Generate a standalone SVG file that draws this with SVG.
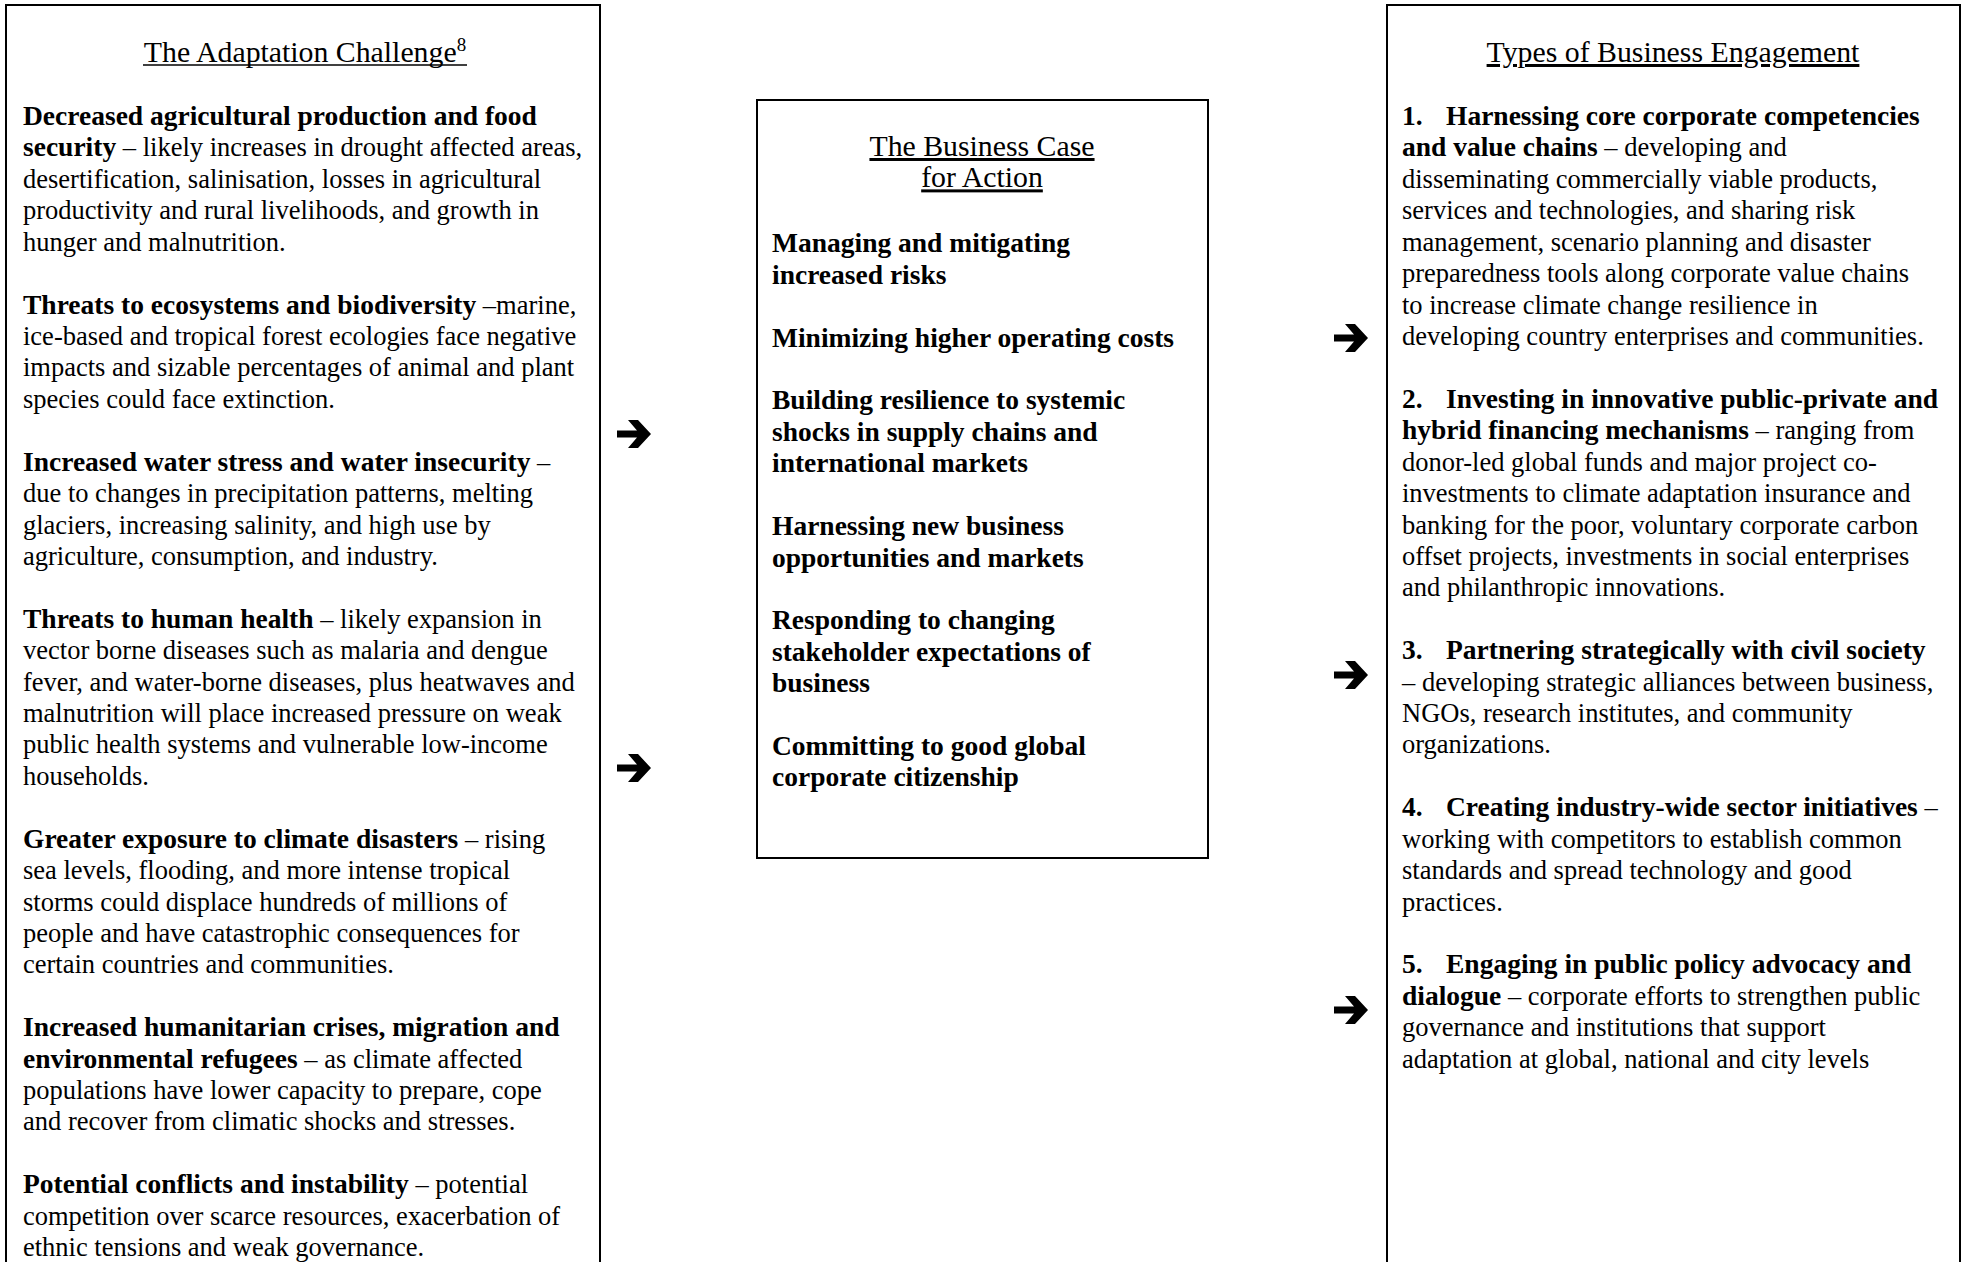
<svg xmlns="http://www.w3.org/2000/svg" width="1963" height="1262" viewBox="0 0 1963 1262">
<defs>
<style>
.box{fill:none;stroke:#000;stroke-width:2}
.t{font-family:"Liberation Serif","Times New Roman",serif;font-size:26.5px;fill:#000}
.b{font-weight:bold;font-size:27.5px}
.h{font-family:"Liberation Serif","Times New Roman",serif;font-size:29.8px;fill:#000;text-anchor:middle}
.u{text-decoration:underline}
.ul{stroke:#000;stroke-width:1.7}
.arr{fill:#000}
</style>
<path id="arrow" class="arr" d="M-17,-3.5 L3,-3.5 L-6,-14 L4,-14 L17,0 L4,14 L-6,14 L3,3.5 L-17,3.5 Z"/>
</defs>
<rect width="1963" height="1262" fill="#fff"/>

<g id="adaptation-challenge">
<rect class="box" x="6" y="5" width="594" height="1275"/>
<text class="h" x="305" y="62">The Adaptation Challenge<tspan font-size="19" dy="-11">8</tspan></text>
<line class="ul" x1="143" y1="65" x2="467" y2="65"/>
<text class="t" x="23" transform="translate(0,3)">
<tspan x="23" y="122" class="b">Decreased agricultural production and food</tspan>
<tspan x="23" y="153.4"><tspan class="b">security</tspan> – likely increases in drought affected areas,</tspan>
<tspan x="23" y="184.8">desertification, salinisation, losses in agricultural</tspan>
<tspan x="23" y="216.3">productivity and rural livelihoods, and growth in</tspan>
<tspan x="23" y="247.7">hunger and malnutrition.</tspan>
<tspan x="23" y="310.5"><tspan class="b">Threats to ecosystems and biodiversity</tspan> –marine,</tspan>
<tspan x="23" y="341.9">ice-based and tropical forest ecologies face negative</tspan>
<tspan x="23" y="373.4">impacts and sizable percentages of animal and plant</tspan>
<tspan x="23" y="404.8">species could face extinction.</tspan>
<tspan x="23" y="467.6"><tspan class="b">Increased water stress and water insecurity</tspan> –</tspan>
<tspan x="23" y="499">due to changes in precipitation patterns, melting</tspan>
<tspan x="23" y="530.5">glaciers, increasing salinity, and high use by</tspan>
<tspan x="23" y="561.9">agriculture, consumption, and industry.</tspan>
<tspan x="23" y="624.7"><tspan class="b">Threats to human health</tspan> – likely expansion in</tspan>
<tspan x="23" y="656.1">vector borne diseases such as malaria and dengue</tspan>
<tspan x="23" y="687.6">fever, and water-borne diseases, plus heatwaves and</tspan>
<tspan x="23" y="719">malnutrition will place increased pressure on weak</tspan>
<tspan x="23" y="750.4">public health systems and vulnerable low-income</tspan>
<tspan x="23" y="781.8">households.</tspan>
<tspan x="23" y="844.7"><tspan class="b">Greater exposure to climate disasters</tspan> – rising</tspan>
<tspan x="23" y="876.1">sea levels, flooding, and more intense tropical</tspan>
<tspan x="23" y="907.5">storms could displace hundreds of millions of</tspan>
<tspan x="23" y="938.9">people and have catastrophic consequences for</tspan>
<tspan x="23" y="970.3">certain countries and communities.</tspan>
<tspan x="23" y="1033.2" class="b">Increased humanitarian crises, migration and</tspan>
<tspan x="23" y="1064.6"><tspan class="b">environmental refugees</tspan> – as climate affected</tspan>
<tspan x="23" y="1096">populations have lower capacity to prepare, cope</tspan>
<tspan x="23" y="1127.4">and recover from climatic shocks and stresses.</tspan>
<tspan x="23" y="1190.3"><tspan class="b">Potential conflicts and instability</tspan> – potential</tspan>
<tspan x="23" y="1221.7">competition over scarce resources, exacerbation of</tspan>
<tspan x="23" y="1253.1">ethnic tensions and weak governance.</tspan>
</text>
</g>

<g id="business-case">
<rect class="box" x="757" y="100" width="451" height="758"/>
<text class="h u" x="982" y="156">The Business Case</text>
<text class="h u" x="982" y="187.4">for Action</text>
<text class="t b" x="772" transform="translate(0,3)">
<tspan x="772" y="249.3">Managing and mitigating</tspan>
<tspan x="772" y="280.7">increased risks</tspan>
<tspan x="772" y="343.5">Minimizing higher operating costs</tspan>
<tspan x="772" y="406.4">Building resilience to systemic</tspan>
<tspan x="772" y="437.8">shocks in supply chains and</tspan>
<tspan x="772" y="469.2">international markets</tspan>
<tspan x="772" y="532">Harnessing new business</tspan>
<tspan x="772" y="563.5">opportunities and markets</tspan>
<tspan x="772" y="626.3">Responding to changing</tspan>
<tspan x="772" y="657.7">stakeholder expectations of</tspan>
<tspan x="772" y="689.1">business</tspan>
<tspan x="772" y="752">Committing to good global</tspan>
<tspan x="772" y="783.4">corporate citizenship</tspan>
</text>
</g>

<g id="business-engagement">
<rect class="box" x="1387" y="5" width="573" height="1275"/>
<text class="h u" x="1673" y="62">Types of Business Engagement</text>
<text class="t" x="1402" transform="translate(0,3)">
<tspan x="1402" y="122" class="b">1.</tspan><tspan x="1446" y="122" class="b">Harnessing core corporate competencies</tspan>
<tspan x="1402" y="153.4"><tspan class="b">and value chains</tspan> – developing and</tspan>
<tspan x="1402" y="184.8">disseminating commercially viable products,</tspan>
<tspan x="1402" y="216.3">services and technologies, and sharing risk</tspan>
<tspan x="1402" y="247.7">management, scenario planning and disaster</tspan>
<tspan x="1402" y="279.1">preparedness tools along corporate value chains</tspan>
<tspan x="1402" y="310.5">to increase climate change resilience in</tspan>
<tspan x="1402" y="341.9">developing country enterprises and communities.</tspan>
<tspan x="1402" y="404.8" class="b">2.</tspan><tspan x="1446" y="404.8" class="b">Investing in innovative public-private and</tspan>
<tspan x="1402" y="436.2"><tspan class="b">hybrid financing mechanisms</tspan> – ranging from</tspan>
<tspan x="1402" y="467.6">donor-led global funds and major project co-</tspan>
<tspan x="1402" y="499">investments to climate adaptation insurance and</tspan>
<tspan x="1402" y="530.5">banking for the poor, voluntary corporate carbon</tspan>
<tspan x="1402" y="561.9">offset projects, investments in social enterprises</tspan>
<tspan x="1402" y="593.3">and philanthropic innovations.</tspan>
<tspan x="1402" y="656.1" class="b">3.</tspan><tspan x="1446" y="656.1" class="b">Partnering strategically with civil society</tspan>
<tspan x="1402" y="687.6">– developing strategic alliances between business,</tspan>
<tspan x="1402" y="719">NGOs, research institutes, and community</tspan>
<tspan x="1402" y="750.4">organizations.</tspan>
<tspan x="1402" y="813.3" class="b">4.</tspan><tspan x="1446" y="813.3"><tspan class="b">Creating industry-wide sector initiatives</tspan> –</tspan>
<tspan x="1402" y="844.7">working with competitors to establish common</tspan>
<tspan x="1402" y="876.1">standards and spread technology and good</tspan>
<tspan x="1402" y="907.5">practices.</tspan>
<tspan x="1402" y="970.3" class="b">5.</tspan><tspan x="1446" y="970.3" class="b">Engaging in public policy advocacy and</tspan>
<tspan x="1402" y="1001.8"><tspan class="b">dialogue</tspan> – corporate efforts to strengthen public</tspan>
<tspan x="1402" y="1033.2">governance and institutions that support</tspan>
<tspan x="1402" y="1064.6">adaptation at global, national and city levels</tspan>
</text>
</g>

<g id="connectors">
<use href="#arrow" x="634" y="434"/>
<use href="#arrow" x="634" y="768"/>
<use href="#arrow" x="1351" y="338"/>
<use href="#arrow" x="1351" y="675"/>
<use href="#arrow" x="1351" y="1010"/>
</g>
</svg>
